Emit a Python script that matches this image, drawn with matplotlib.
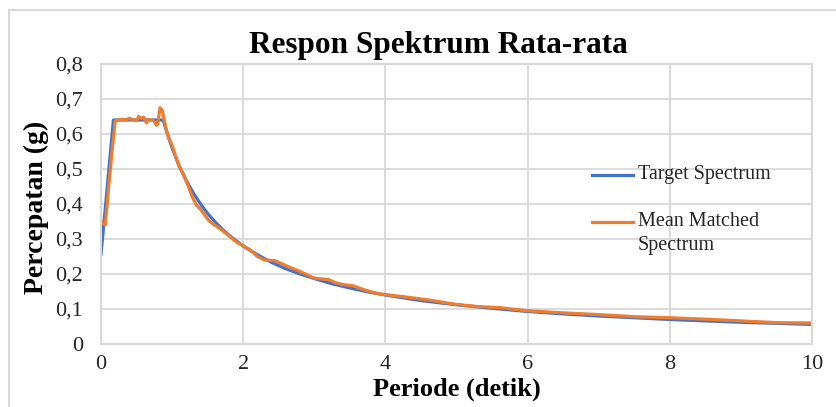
import matplotlib
matplotlib.use("Agg")
import matplotlib.pyplot as plt
from matplotlib.patches import Rectangle
from matplotlib.lines import Line2D

plt.rcParams['font.family'] = ['Liberation Serif', 'DejaVu Serif']

# Target spectrum (period in s, acceleration in g)
target_T = [0, 0.05, 0.1, 0.15, 0.175, 0.2, 0.3, 0.4, 0.5, 0.6, 0.7, 0.8, 0.875, 0.9,
            1.0, 1.1, 1.2, 1.3, 1.4, 1.5, 1.6, 1.7, 1.8, 1.9, 2.0, 2.2, 2.4, 2.6, 2.8,
            3.0, 3.25, 3.5, 3.75, 4.0, 4.5, 5.0, 5.5, 6.0, 6.5, 7.0, 7.5, 8.0, 8.5,
            9.0, 9.5, 10.0]
target_Sa = [0.256, 0.366, 0.475, 0.585, 0.640, 0.640, 0.640, 0.640, 0.640, 0.640, 0.640,
             0.640, 0.640, 0.622, 0.560, 0.509, 0.467, 0.431, 0.400, 0.373, 0.350, 0.329,
             0.311, 0.295, 0.280, 0.255, 0.233, 0.215, 0.200, 0.187, 0.172, 0.160, 0.149,
             0.140, 0.124, 0.112, 0.102, 0.093, 0.086, 0.080, 0.075, 0.070, 0.066, 0.062,
             0.059, 0.056]

# Mean matched spectrum
matched_T = [0, 0.03, 0.06, 0.1, 0.15, 0.2, 0.25, 0.3, 0.35, 0.4, 0.45, 0.5, 0.53, 0.56,
             0.6, 0.64, 0.67, 0.7, 0.74, 0.78, 0.8, 0.83, 0.86, 0.88, 0.92, 0.96, 1.0,
             1.05, 1.1, 1.16, 1.22, 1.28, 1.34, 1.4, 1.46, 1.52, 1.58, 1.65, 1.72, 1.8,
             1.9, 2.0, 2.1, 2.2, 2.3, 2.45, 2.6, 2.8, 3.0, 3.1, 3.2, 3.3, 3.4, 3.55, 3.7,
             3.85, 4.0, 4.3, 4.6, 5.0, 5.3, 5.6, 6.0, 6.5, 7.0, 7.5, 8.0, 8.5, 9.0, 9.5,
             10.0]
matched_Sa = [0.350, 0.345, 0.340, 0.430, 0.540, 0.638, 0.640, 0.642, 0.640, 0.645, 0.640,
              0.638, 0.650, 0.645, 0.648, 0.632, 0.642, 0.640, 0.638, 0.625, 0.630, 0.675,
              0.668, 0.650, 0.610, 0.585, 0.568, 0.535, 0.507, 0.483, 0.455, 0.422, 0.397,
              0.385, 0.368, 0.352, 0.342, 0.333, 0.322, 0.309, 0.292, 0.281, 0.268, 0.250,
              0.240, 0.238, 0.224, 0.207, 0.188, 0.186, 0.184, 0.175, 0.170, 0.166, 0.155,
              0.146, 0.141, 0.134, 0.126, 0.113, 0.107, 0.104, 0.095, 0.089, 0.084, 0.078,
              0.075, 0.071, 0.066, 0.061, 0.060]

x_ticks = [0, 2, 4, 6, 8, 10]
y_ticks = [0, 0.1, 0.2, 0.3, 0.4, 0.5, 0.6, 0.7, 0.8]
y_labels = ["0", "0,1", "0,2", "0,3", "0,4", "0,5", "0,6", "0,7", "0,8"]

W, H = 837, 407
fig = plt.figure(figsize=(W / 100, H / 100), dpi=100)
fig.patch.set_facecolor('white')

# outer chart border (left and top visible)
fig.patches.append(Rectangle((9 / W, -0.2), 1.3, 1.2 - 9.5 / H, transform=fig.transFigure,
                             fill=False, edgecolor='#D9D9D9', linewidth=1.5))

ax = fig.add_axes([101 / W, 1 - 344 / H, (812 - 101) / W, (344 - 64) / H])
grid_c = '#D9D9D9'
ax.set_xlim(0, 10)
ax.set_ylim(0, 0.8)
ax.set_xticks(x_ticks)
ax.set_xticklabels([str(v) for v in x_ticks])
ax.set_yticks(y_ticks)
ax.set_yticklabels(y_labels)
ax.grid(True, color=grid_c, linewidth=1.3)
ax.set_axisbelow(True)
for s in ax.spines.values():
    s.set_color(grid_c)
    s.set_linewidth(1.5)
ax.tick_params(length=0, labelsize=16, colors='#262626')
ax.tick_params(axis='x', pad=8)
ax.tick_params(axis='y', pad=13)

ax.plot(target_T, target_Sa, color='#4472C4', linewidth=2.3, label='Target Spectrum')
ax.plot(matched_T, matched_Sa, color='#ED7D31', linewidth=2.3, label='Mean Matched Spectrum')

fig.text(438 / W, 1 - 46 / H, "Respon Spektrum Rata-rata", ha='center', va='center',
         fontsize=22.5, fontweight='bold', color='black')
fig.text(457 / W, 1 - 389 / H, "Periode (detik)", ha='center', va='center',
         fontsize=19, fontweight='bold', color='black')
fig.text(36 / W, 1 - 207 / H, "Percepatan (g)", ha='center', va='center', rotation=90,
         fontsize=20, fontweight='bold', color='black')

# legend (manual)
fig.lines.append(Line2D([592 / W, 633 / W], [1 - 175 / H, 1 - 175 / H], transform=fig.transFigure,
                        color='#4472C4', linewidth=2.3))
fig.text(638 / W, 1 - 175 / H, "Target Spectrum", ha='left', va='center', fontsize=14.5, color='#262626')
fig.lines.append(Line2D([592 / W, 633 / W], [1 - 222 / H, 1 - 222 / H], transform=fig.transFigure,
                        color='#ED7D31', linewidth=2.3))
fig.text(638 / W, 1 - 222 / H, "Mean Matched", ha='left', va='center', fontsize=14.5, color='#262626')
fig.text(638 / W, 1 - 245 / H, "Spectrum", ha='left', va='center', fontsize=14.5, color='#262626')

fig.savefig("out.png", dpi=100, facecolor='white')
